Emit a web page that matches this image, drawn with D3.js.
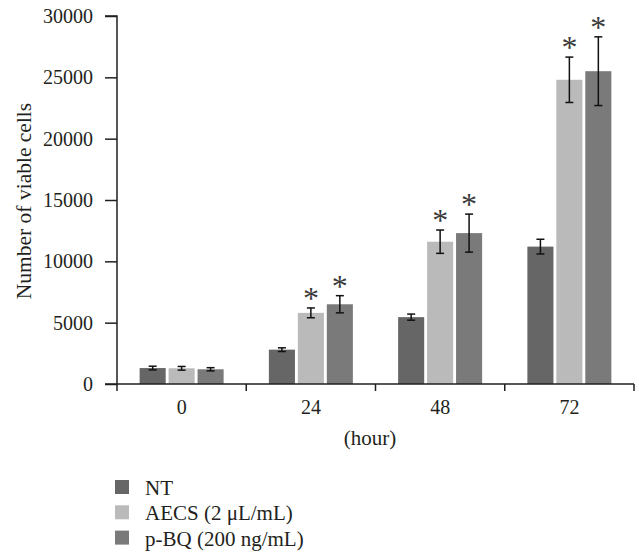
<!DOCTYPE html>
<html>
<head>
<meta charset="utf-8">
<script src="https://cdn.jsdelivr.net/npm/d3@7"></script>
<style>
  html, body { margin: 0; padding: 0; background: #fff; }
  svg text { font-family: "Liberation Serif", "DejaVu Serif", serif; fill: #231f20; }
</style>
</head>
<body>
<svg id="chart" width="639" height="554"></svg>
<script>
// ---- data ----
const categories = ["0", "24", "48", "72"];
const seriesNames = ["NT", "AECS (2 \u03bcL/mL)", "p-BQ (200 ng/mL)"];
const ntValues   = [1300, 2800, 5450, 11200];
const ntErrors   = [150, 150, 250, 600];
const aecsValues = [1280, 5800, 11600, 24800];
const aecsErrors = [150, 400, 950, 1850];
const pbqValues  = [1200, 6500, 12300, 25500];
const pbqErrors  = [130, 700, 1550, 2800];
const aecsStar   = [false, true, true, true];
const pbqStar    = [false, true, true, true];
const yTicks     = [0, 5000, 10000, 15000, 20000, 25000, 30000];
const seriesColors = ["#666666", "#bababa", "#7a7a7a"];

const series = [
  { name: seriesNames[0], values: ntValues,   errors: ntErrors,   stars: [false,false,false,false], color: seriesColors[0] },
  { name: seriesNames[1], values: aecsValues, errors: aecsErrors, stars: aecsStar, color: seriesColors[1] },
  { name: seriesNames[2], values: pbqValues,  errors: pbqErrors,  stars: pbqStar,  color: seriesColors[2] }
];

const svg = d3.select("#chart");
const plotLeft = 117, plotRight = 634, plotTop = 16, plotBottom = 384;

const y = d3.scaleLinear().domain([0, 30000]).range([plotBottom, plotTop]);
const x0 = d3.scaleBand().domain(categories).range([plotLeft, plotRight]).padding(0);
const groupWidth = 84;
const x1 = d3.scaleBand().domain(d3.range(series.length)).range([0, groupWidth]).paddingInner(0.1);
const groupOffset = (x0.bandwidth() - groupWidth) / 2;

// bars
const groups = svg.append("g").selectAll("g")
  .data(categories).join("g")
  .attr("transform", c => `translate(${x0(c) + groupOffset},0)`);

series.forEach((s, si) => {
  groups.append("rect")
    .attr("x", x1(si))
    .attr("width", x1.bandwidth())
    .attr("y", (c, i) => y(s.values[i]))
    .attr("height", (c, i) => plotBottom - y(s.values[i]))
    .attr("fill", s.color);
});

// error bars
const capHalf = 4;
series.forEach((s, si) => {
  groups.each(function(c, i) {
    const g = d3.select(this);
    const cx = x1(si) + x1.bandwidth() / 2;
    const hi = y(s.values[i] + s.errors[i]);
    const lo = y(s.values[i] - s.errors[i]);
    g.append("line").attr("x1", cx).attr("x2", cx).attr("y1", hi).attr("y2", lo)
      .attr("stroke", "#111").attr("stroke-width", 1.5);
    g.append("line").attr("x1", cx - capHalf).attr("x2", cx + capHalf).attr("y1", hi).attr("y2", hi)
      .attr("stroke", "#111").attr("stroke-width", 1.5);
    g.append("line").attr("x1", cx - capHalf).attr("x2", cx + capHalf).attr("y1", lo).attr("y2", lo)
      .attr("stroke", "#111").attr("stroke-width", 1.5);
    if (s.stars[i]) {
      g.append("text").attr("x", cx).attr("y", hi + 1)
        .attr("text-anchor", "middle")
        .style("font-size", "32px").style("fill", "#3a3a3a")
        .text("*");
    }
  });
});

// y axis
const yAxis = d3.axisLeft(y).tickValues(yTicks).tickSize(12).tickPadding(12).tickFormat(d3.format("d"));
const yg = svg.append("g").attr("transform", `translate(${plotLeft},0)`).call(yAxis);
yg.select(".domain").attr("stroke", "#231f20").attr("stroke-width", 1.5).attr("d", `M-12,${plotTop}H0V${plotBottom}`);
yg.selectAll(".tick line").attr("stroke", "#231f20").attr("stroke-width", 1.5);
yg.selectAll(".tick text").style("font-size", "20px").style("font-family", "Liberation Serif, serif").attr("fill", "#231f20");

// x axis
const xg = svg.append("g").attr("transform", `translate(0,${plotBottom})`);
xg.append("line").attr("x1", plotLeft - 12).attr("x2", plotRight).attr("y1", 0).attr("y2", 0)
  .attr("stroke", "#231f20").attr("stroke-width", 1.5);
const xTickPos = categories.map(c => x0(c)).concat([x0(categories[categories.length - 1]) + x0.bandwidth()]);
xg.selectAll("line.xt").data(xTickPos).join("line").attr("class", "xt")
  .attr("x1", d => d).attr("x2", d => d).attr("y1", 0).attr("y2", 7)
  .attr("stroke", "#231f20").attr("stroke-width", 1.5);
xg.selectAll("text.xl").data(categories).join("text").attr("class", "xl")
  .attr("x", c => x0(c) + x0.bandwidth() / 2).attr("y", 30)
  .attr("text-anchor", "middle").style("font-size", "20px").text(c => c);

// axis titles
svg.append("text").attr("x", 370).attr("y", 445).attr("text-anchor", "middle")
  .style("font-size", "21px").text("(hour)");
svg.append("text").attr("transform", `translate(31,201) rotate(-90)`).attr("text-anchor", "middle")
  .style("font-size", "21.5px").text("Number of viable cells");

// legend
const legend = svg.append("g").selectAll("g").data(series).join("g")
  .attr("transform", (d, i) => `translate(115,${480 + i * 25.3})`);
legend.append("rect").attr("width", 14).attr("height", 14).attr("fill", d => d.color);
legend.append("text").attr("x", 30).attr("y", 15).style("font-size", "21px").text(d => d.name);
</script>
</body>
</html>
